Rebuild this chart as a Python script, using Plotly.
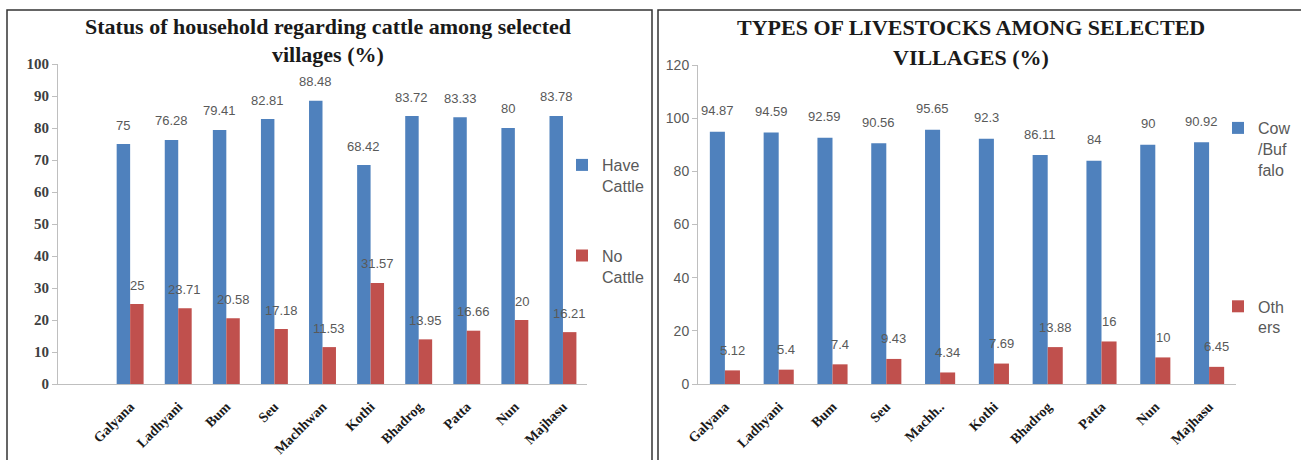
import plotly.graph_objects as go

# ---------------- data ----------------
villages_left = ["Galyana", "Ladhyani", "Bum", "Seu", "Machhwan", "Kothi",
                 "Bhadrog", "Patta", "Nun", "Majhasu"]
villages_right = ["Galyana", "Ladhyani", "Bum", "Seu", "Machh..", "Kothi",
                  "Bhadrog", "Patta", "Nun", "Majhasu"]
have_cattle = [75, 76.28, 79.41, 82.81, 88.48, 68.42, 83.72, 83.33, 80, 83.78]
no_cattle = [25, 23.71, 20.58, 17.18, 11.53, 31.57, 13.95, 16.66, 20, 16.21]
cow_buffalo = [94.87, 94.59, 92.59, 90.56, 95.65, 92.3, 86.11, 84, 90, 90.92]
others = [5.12, 5.4, 7.4, 9.43, 4.34, 7.69, 13.88, 16, 10, 6.45]
left_yticks = list(range(0, 101, 10))
right_yticks = list(range(0, 121, 20))

# ---------------- style ----------------
W_, H_ = 1301, 460
BLUE = "#4F81BD"
RED = "#C0504D"
LABEL = "#595959"
AXIS = "#BFBFBF"
SERIF = "Liberation Serif"
SANS = "Liberation Sans"
BW = 0.28  # bar width (category units)


def px_x(p):
    return p / W_


def px_y(p):
    return 1 - p / H_


idx = list(range(len(villages_left)))

fig = go.Figure()

fig.add_trace(go.Bar(x=idx, y=have_cattle, width=BW, offset=-BW, marker_color=BLUE,
                     marker_line_width=0,
                     name="Have<br>Cattle", legendgroup="a", legend="legend",
                     xaxis="x", yaxis="y"))
fig.add_trace(go.Bar(x=idx, y=no_cattle, width=BW, offset=0, marker_color=RED,
                     marker_line_width=0,
                     name="No<br>Cattle", legendgroup="b", legend="legend",
                     xaxis="x", yaxis="y"))
fig.add_trace(go.Bar(x=idx, y=cow_buffalo, width=BW, offset=-BW, marker_color=BLUE,
                     marker_line_width=0,
                     name="Cow<br>/Buf<br>falo", legendgroup="c", legend="legend2",
                     xaxis="x2", yaxis="y2"))
fig.add_trace(go.Bar(x=idx, y=others, width=BW, offset=0, marker_color=RED,
                     marker_line_width=0,
                     name="Oth<br>ers", legendgroup="d", legend="legend2",
                     xaxis="x2", yaxis="y2"))

annotations = []


def add_labels(values, shift, xref, yref, yshift):
    for i, v in enumerate(values):
        annotations.append(dict(x=i + shift, y=v, xref=xref, yref=yref, text=str(v),
                                showarrow=False, yanchor="middle", xanchor="center",
                                yshift=yshift,
                                font=dict(family=SANS, size=13, color=LABEL)))


add_labels(have_cattle, -BW / 2, "x", "y", 19)
add_labels(no_cattle, BW / 2, "x", "y", 19)
add_labels(cow_buffalo, -BW / 2, "x2", "y2", 21)
add_labels(others, BW / 2, "x2", "y2", 20)

title_font = dict(family=SERIF, size=22, color="#1a1a1a", weight="bold")
annotations += [
    dict(x=px_x(328), y=px_y(26), xref="paper", yref="paper", showarrow=False,
         xanchor="center", yanchor="middle",
         text="Status of household regarding cattle among selected", font=title_font),
    dict(x=px_x(328), y=px_y(55), xref="paper", yref="paper", showarrow=False,
         xanchor="center", yanchor="middle", text="villages (%)", font=title_font),
    dict(x=px_x(971), y=px_y(28), xref="paper", yref="paper", showarrow=False,
         xanchor="center", yanchor="middle",
         text="TYPES OF LIVESTOCKS AMONG SELECTED", font=title_font),
    dict(x=px_x(971), y=px_y(58), xref="paper", yref="paper", showarrow=False,
         xanchor="center", yanchor="middle", text="VILLAGES (%)", font=title_font),
]

shapes = [
    dict(type="rect", xref="paper", yref="paper", x0=px_x(7), x1=px_x(652),
         y0=px_y(480), y1=px_y(10), line=dict(color="#333333", width=1.5)),
    dict(type="rect", xref="paper", yref="paper", x0=px_x(658), x1=px_x(1320),
         y0=px_y(480), y1=px_y(10), line=dict(color="#333333", width=1.5)),
]

xtick_font = dict(family=SERIF, size=14, color="#1a1a1a", weight="bold")
common_x = dict(tickmode="array", tickvals=idx, tickangle=-45, tickfont=xtick_font,
                showline=True, linecolor=AXIS, linewidth=1, ticks="", showgrid=False,
                zeroline=False, automargin=False, ticklabelstandoff=8)
common_y = dict(tickmode="array", showline=True, linecolor=AXIS, linewidth=1,
                ticks="outside", ticklen=5, tickcolor=AXIS, showgrid=False,
                zeroline=False, automargin=False)

fig.update_layout(
    template="none",
    width=W_, height=H_,
    margin=dict(l=0, r=0, t=0, b=0, autoexpand=False),
    plot_bgcolor="white", paper_bgcolor="white",
    barmode="overlay",
    showlegend=True,
    annotations=annotations,
    shapes=shapes,
    xaxis=dict(domain=[px_x(58), px_x(587)], range=[-1.5, 9.5],
               ticktext=villages_left, anchor="y", **common_x),
    yaxis=dict(domain=[px_y(384), px_y(64)], range=[0, 100], tickvals=left_yticks,
               tickfont=dict(family=SERIF, size=15, color="#404040", weight="bold"),
               anchor="x", **common_y),
    xaxis2=dict(domain=[px_x(698), px_x(1236)], range=[-0.5, 9.5],
                ticktext=villages_right, anchor="y2", **common_x),
    yaxis2=dict(domain=[px_y(384), px_y(65)], range=[0, 120], tickvals=right_yticks,
                tickfont=dict(family=SANS, size=14, color="#595959"),
                anchor="x2", **common_y),
    legend=dict(x=px_x(562), xanchor="left", y=px_y(148), yanchor="top",
                font=dict(family=SANS, size=16, color=LABEL), tracegroupgap=46,
                traceorder="grouped", valign="top", bgcolor="rgba(0,0,0,0)",
                borderwidth=0),
    legend2=dict(x=px_x(1218), xanchor="left", y=px_y(111), yanchor="top",
                 font=dict(family=SANS, size=16, color=LABEL), tracegroupgap=113,
                 traceorder="grouped", valign="top", bgcolor="rgba(0,0,0,0)",
                 borderwidth=0),
)

fig.write_html(
    "out.html",
    config={"displayModeBar": False},
    post_script="document.body.style.margin='0';document.body.style.overflow='hidden';",
)
